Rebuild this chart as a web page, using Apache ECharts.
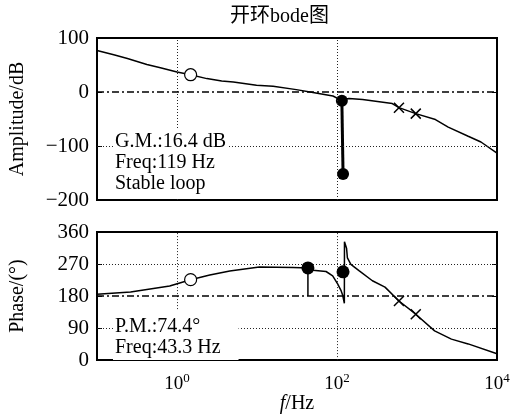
<!DOCTYPE html>
<html><head><meta charset="utf-8">
<script src="https://cdn.jsdelivr.net/npm/echarts@6/dist/echarts.min.js"></script>
<style>html,body{margin:0;padding:0;background:#fff}#c{width:515px;height:415px}</style>
</head><body><div id="c"></div>
<script>
// ---- data ----
const magFreq = [0.1, 0.162, 0.24, 0.42, 0.62, 1, 1.48, 2.36, 3.62, 5.06, 9.86, 15.9, 31, 50, 89, 112, 141, 209, 491, 595, 965, 1700, 2455, 4365, 6300, 10000];
const magDb   = [77, 69, 62, 51, 45, 37, 32, 24.8, 20.4, 18.5, 12.4, 10.6, 4.4, -1.1, -7.4, -15, -12.2, -14, -21.5, -29, -40, -51, -65, -82, -92.6, -113];
const phaseFreq = [0.1, 0.263, 0.81, 1.48, 2.57, 4.57, 10.7, 28.2, 43.3, 49.9, 73, 88.3, 101.8, 112, 117.8, 123.6, 124, 131.6, 135, 149, 190, 277, 398, 595, 965, 1660, 2692, 4365, 10000];
const phaseDeg  = [185, 191.5, 208, 226, 239, 250.6, 261.5, 260, 259, 252.5, 249, 237, 214, 196, 182, 159.5, 332.7, 314.6, 287, 269, 250.6, 223, 205, 166, 129, 82, 59, 45.5, 18];
const gmFreq = [115, 119];          // gain-margin indicator
const gmDb = [-16.4, -152];
const pmFreq = [43.3, 43.3];        // phase-margin indicator
const pmDeg = [259, 180];
const openMark = {freq: 1.48, mag: 32, phase: 226};
const crossFreq = [595, 965];
const crossMag = [-29, -40];
const crossPhase = [166, 129];
const phaseDotFreq = [43.3, 119];
const phaseDotDeg = [259, 248];
const magTicks = [-200, -100, 0, 100];
const phaseTicks = [0, 90, 180, 270, 360];
const gmText = 'G.M.:16.4 dB\nFreq:119 Hz\nStable loop';
const pmText = 'P.M.:74.4°\nFreq:43.3 Hz';

const FONT = "'Liberation Serif','Times New Roman','Noto Sans CJK SC',serif";
const zip = (a, b) => a.map((v, i) => [v, b[i]]);
const dotted = {color: '#222', type: [1, 2], width: 1};
const dashDot = {color: '#000', type: [7, 3, 2, 3], width: 1.5};
const xPath = 'path://M0,0L10,10M10,0L0,10';

function xAxisCfg(gi, showLabels) {
  return {
    type: 'log', logBase: 10, min: 0.1, max: 10000, gridIndex: gi,
    axisLine: {show: false}, axisTick: {show: false}, splitLine: {show: false},
    name: showLabels ? '{i|f}/Hz' : '', nameLocation: 'middle', nameGap: 31,
    nameTextStyle: {fontFamily: FONT, fontSize: 20, color: '#000',
      rich: {i: {fontFamily: FONT, fontSize: 20, fontStyle: 'italic', color: '#000'}}},
    axisLabel: {
      show: showLabels, margin: 12, color: '#000', fontFamily: FONT, fontSize: 19,
      formatter: v => {
        const e = Math.round(Math.log10(v));
        return (e >= 0 && e % 2 === 0) ? '10{s|' + e + '}' : '';
      },
      rich: {s: {fontFamily: FONT, fontSize: 13, color: '#000', padding: [0, 0, 10, 0]}}
    }
  };
}
function yAxisCfg(gi, min, max, interval, name, labels) {
  return {
    type: 'value', gridIndex: gi, min: min, max: max, interval: interval,
    name: name, nameLocation: 'middle', nameGap: 69,
    nameTextStyle: {fontFamily: FONT, fontSize: 20, color: '#000'},
    axisLine: {show: false}, splitLine: {show: false},
    axisTick: {show: true, inside: true, length: 5, lineStyle: {color: '#000', width: 1}},
    axisLabel: {show: labels, color: '#000', fontFamily: FONT, fontSize: 21, margin: 8,
      formatter: v => String(v).replace('-', '\u2212')}
  };
}
function gridLines(h, v, ref) {
  const d = [];
  h.forEach(y => d.push({yAxis: y, lineStyle: dotted}));
  v.forEach(x => d.push({xAxis: x, lineStyle: dotted}));
  d.push({yAxis: ref, lineStyle: dashDot});
  return {silent: true, symbol: 'none', label: {show: false}, animation: false, data: d};
}
const blackLine = {color: '#000', width: 1.5};
const solidDot = {color: '#000', opacity: 1};
const hollowDot = {color: '#fff', borderColor: '#000', borderWidth: 1.2, opacity: 1};
const crossStyle = {color: 'none', borderColor: '#000', borderWidth: 1.5, opacity: 1};

const option = {
  animation: false,
  backgroundColor: '#fff',
  title: [
    {text: '开环bode图', left: 230, top: 7, padding: 0,
      textStyle: {fontFamily: FONT, fontSize: 20, fontWeight: 'normal', color: '#000'}},
    {text: gmText, left: 113, top: 128, padding: [3, 2, 4, 2], backgroundColor: '#fff', z: 10,
      textStyle: {fontFamily: FONT, fontSize: 20, lineHeight: 21, fontWeight: 'normal', color: '#000'}},
    {text: pmText, left: 113, top: 310, padding: [6, 18, 2, 2], backgroundColor: '#fff', z: 10,
      textStyle: {fontFamily: FONT, fontSize: 20, lineHeight: 21, fontWeight: 'normal', color: '#000'}}
  ],
  grid: [
    {left: 93, top: 38, width: 404, height: 162, show: true, borderColor: '#000', borderWidth: 2, backgroundColor: 'transparent'},
    {left: 93, top: 232, width: 404, height: 131, show: true, borderColor: '#000', borderWidth: 2, backgroundColor: 'transparent'}
  ],
  xAxis: [xAxisCfg(0, false), xAxisCfg(1, true)],
  yAxis: [
    yAxisCfg(0, magTicks[0], magTicks[magTicks.length - 1], 100, 'Amplitude/dB', true),
    yAxisCfg(1, phaseTicks[0], phaseTicks[phaseTicks.length - 1], 90, 'Phase/(°)', true),
    Object.assign(yAxisCfg(0, magTicks[0], magTicks[magTicks.length - 1], 100, '', false), {position: 'right'}),
    Object.assign(yAxisCfg(1, phaseTicks[0], phaseTicks[phaseTicks.length - 1], 90, '', false), {position: 'right'})
  ],
  series: [
    {type: 'line', xAxisIndex: 0, yAxisIndex: 0, data: zip(magFreq, magDb), symbol: 'none',
      lineStyle: blackLine, z: 3, markLine: gridLines([-100], [1, 100], 0)},
    {type: 'line', xAxisIndex: 0, yAxisIndex: 0, data: zip(gmFreq, gmDb), symbol: 'circle', symbolSize: 12,
      showSymbol: true, itemStyle: solidDot, lineStyle: {color: '#000', width: 3}, z: 4},
    {type: 'scatter', xAxisIndex: 0, yAxisIndex: 0, data: [[openMark.freq, openMark.mag]], symbol: 'circle', symbolSize: 12,
      itemStyle: hollowDot, z: 5},
    {type: 'scatter', xAxisIndex: 0, yAxisIndex: 0, data: zip(crossFreq, crossMag), symbol: xPath, symbolSize: 10,
      itemStyle: crossStyle, z: 5},

    {type: 'line', xAxisIndex: 1, yAxisIndex: 1, data: zip(phaseFreq, phaseDeg), symbol: 'none',
      lineStyle: blackLine, z: 3, markLine: gridLines([90, 270], [1, 100], 180)},
    {type: 'line', xAxisIndex: 1, yAxisIndex: 1, data: zip(pmFreq, pmDeg), symbol: 'none',
      lineStyle: blackLine, z: 4},
    {type: 'scatter', xAxisIndex: 1, yAxisIndex: 1, data: zip(phaseDotFreq, phaseDotDeg), symbol: 'circle', symbolSize: 13,
      itemStyle: solidDot, z: 5},
    {type: 'scatter', xAxisIndex: 1, yAxisIndex: 1, data: [[openMark.freq, openMark.phase]], symbol: 'circle', symbolSize: 12,
      itemStyle: hollowDot, z: 5},
    {type: 'scatter', xAxisIndex: 1, yAxisIndex: 1, data: zip(crossFreq, crossPhase), symbol: xPath, symbolSize: 10,
      itemStyle: crossStyle, z: 5}
  ]
};
const chart = echarts.init(document.getElementById('c'), null, {renderer: 'canvas'});
chart.setOption(option);
</script></body></html>
